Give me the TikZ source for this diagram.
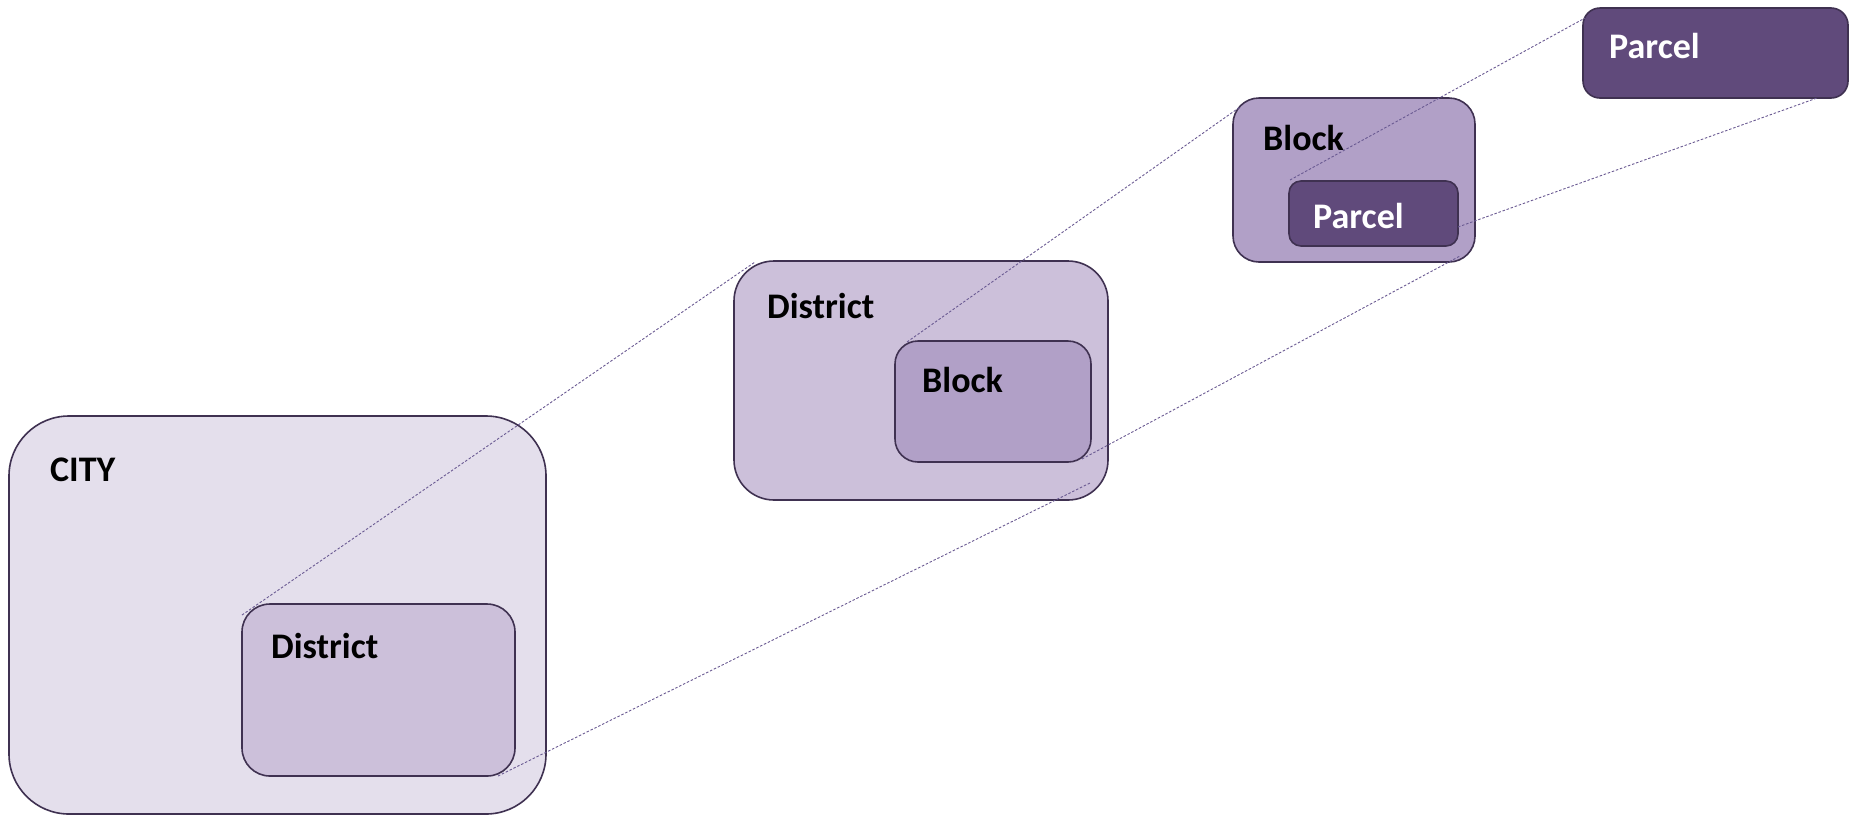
\documentclass[tikz,border=0pt]{standalone}
\usepackage{fontspec}
\setmainfont{Carlito}
\definecolor{cityfill}{HTML}{E4DFEC}
\definecolor{distfill}{HTML}{CCC0DA}
\definecolor{blockfill}{HTML}{B1A0C7}
\definecolor{parcelfill}{HTML}{604A7B}
\definecolor{edgecol}{HTML}{3F3151}
\definecolor{linkcol}{HTML}{6A5A92}
\tikzset{
  areabox/.style={draw=edgecol, line width=1.6pt, anchor=north west, inner sep=0pt, outer sep=0pt},
  lbl/.style={anchor=base west, inner sep=0pt, font=\fontsize{36}{40}\selectfont\bfseries},
  lbldark/.style={lbl, text=black},
  lbllight/.style={lbl, text=white},
  zoomlink/.style={draw=linkcol, line width=0.9pt, dash pattern=on 2.5pt off 1.8pt}
}
\begin{document}
\begin{tikzpicture}[x=1pt,y=-1pt]
\useasboundingbox (0,0) rectangle (1849,815);
% City level
\node[areabox, fill=cityfill, minimum width=537pt, minimum height=398pt, rounded corners=60pt] (city) at (9,416) {};
\node[lbldark] (citylbl) at (50,481) {CITY};
\node[areabox, fill=distfill, minimum width=273pt, minimum height=172pt, rounded corners=28pt] (citydist) at (242,604) {};
\node[lbldark] (citydistlbl) at (271,658) {District};
% District level
\node[areabox, fill=distfill, minimum width=374pt, minimum height=239pt, rounded corners=40pt] (dist) at (734,261) {};
\node[lbldark] (distlbl) at (767,318) {District};
\node[areabox, fill=blockfill, minimum width=196pt, minimum height=121pt, rounded corners=23pt] (distblock) at (895,341) {};
\node[lbldark] (distblocklbl) at (922,392) {Block};
% Block level
\node[areabox, fill=blockfill, minimum width=242pt, minimum height=164pt, rounded corners=26pt] (block) at (1233,98) {};
\node[lbldark] (blocklbl) at (1263,150) {Block};
\node[areabox, fill=parcelfill, minimum width=169pt, minimum height=65pt, rounded corners=12pt] (blockparcel) at (1289,181) {};
\node[lbllight] (blockparcellbl) at (1313,228) {Parcel};
% Parcel level
\node[areabox, fill=parcelfill, minimum width=265pt, minimum height=90pt, rounded corners=17pt] (parcel) at (1583,8) {};
\node[lbllight] (parcellbl) at (1609,58) {Parcel};
% link end points
\coordinate (a1) at (242,615);
\coordinate (a2) at (755,262);
\coordinate (b1) at (498,776);
\coordinate (b2) at (1090,483);
\coordinate (c1) at (907,342);
\coordinate (c2) at (1240,107);
\coordinate (d1) at (1082,459);
\coordinate (d2) at (1460,256);
\coordinate (e1) at (1290,180);
\coordinate (e2) at (1585,18);
\coordinate (f1) at (1458,227);
\coordinate (f2) at (1817,98);
\draw[zoomlink] (a1) -- (a2);
\draw[zoomlink] (b1) -- (b2);
\draw[zoomlink] (c1) -- (c2);
\draw[zoomlink] (d1) -- (d2);
\draw[zoomlink] (e1) -- (e2);
\draw[zoomlink] (f1) -- (f2);
\end{tikzpicture}
\end{document}
